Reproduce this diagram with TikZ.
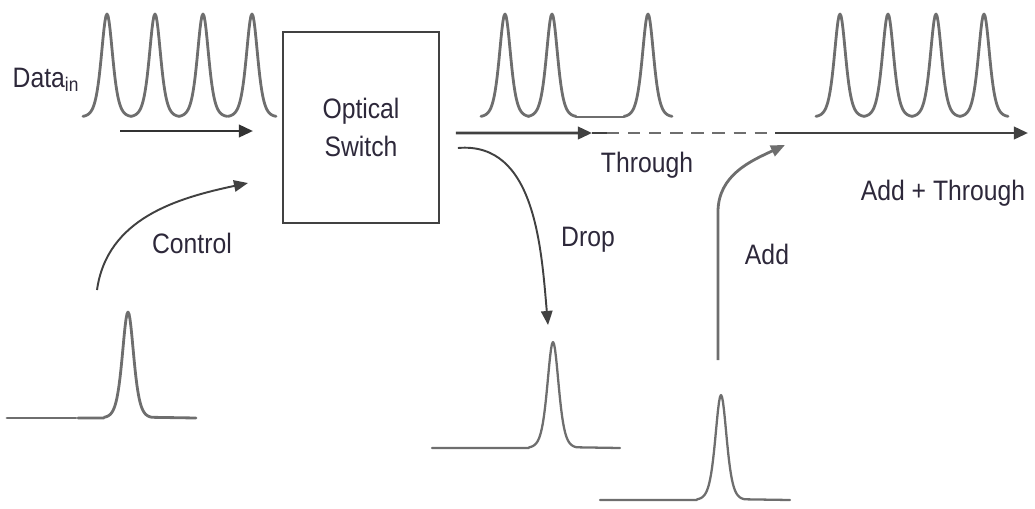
\documentclass[tikz,border=0pt]{standalone}
\usepackage{fontspec}
\setsansfont{Liberation Sans}[FakeStretch=0.88]
\usepackage{tikz}
\usetikzlibrary{calc, arrows.meta, positioning}
\usepackage{xcolor}

\definecolor{pulsegray}{RGB}{110,110,110}
\definecolor{arrowgray}{RGB}{65,65,65}
\definecolor{labelink}{RGB}{45,40,58}

\tikzset{
    pulse/.style={draw=pulsegray, line width=1.6pt, line join=round, line cap=round},
    flow/.style={draw=arrowgray, line width=1.6pt, -{Triangle[length=8pt, width=7pt]}},
    curvedflow/.style={draw=arrowgray, line width=1.1pt, -{Triangle[length=8pt, width=6.5pt]}},
    tag/.style={text=labelink, font=\sffamily\fontsize{16}{21.5}\selectfont, inner sep=0pt}
}

\begin{document}
\begin{tikzpicture}[x=0.02cm, y=-0.02cm]

    % Fix the page to the picture size
    \useasboundingbox (0,0) rectangle (1035,508);

    % The switch itself
    \node[draw=arrowgray, line width=1.1pt, minimum width=3.12cm, minimum height=3.82cm,
          inner sep=0pt, align=center, tag] (switch) at (361,127.5) {Optical\\Switch};

    % Labels
    \node[tag] (datain)     at (46,80)   {Data\textsubscript{in}};
    \node[tag] (control)    at (192,243) {Control};
    \node[tag] (through)    at (647,165) {Through};
    \node[tag] (drop)       at (588,240) {Drop};
    \node[tag] (add)        at (767,254) {Add};
    \node[tag] (addthrough) at (943,193) {Add + Through};

    % End points of the connectors
    \coordinate (dataS) at (120,131);
    \coordinate (dataE) at (253,131);
    \coordinate (ctrlS) at (97,290);
    \coordinate (ctrlE) at (248,183);
    \coordinate (thrS)  at ($(switch.east)+(16,5.5)$);
    \coordinate (thrM)  at (592,133);
    \coordinate (thrD)  at (607,133);
    \coordinate (thrJ)  at (775,133);
    \coordinate (outE)  at (1028,133);
    \coordinate (dropS) at ($(switch.east)+(18,20.5)$);
    \coordinate (dropE) at (548,325);
    \coordinate (addS)  at (718,360);
    \coordinate (addE)  at (785,145);

    % Pulse trains above the lines
    \foreach \p in {107,155,203,252}
        \draw[pulse] plot[domain=-24:24, samples=49] ({\p+\x}, {117-103/cosh(\x/7.5)^2});
    \foreach \p in {505,552,648}
        \draw[pulse] plot[domain=-24:24, samples=49] ({\p+\x}, {117-103/cosh(\x/7.5)^2});
    \draw[pulse] (576,117) -- (624,117);
    \foreach \p in {840,888,936,984}
        \draw[pulse] plot[domain=-24:24, samples=49] ({\p+\x}, {117-103/cosh(\x/7.5)^2});

    % Single pulses: control, drop and add
    \draw[pulse] (7,418) -- (76,418);
    \draw[pulse] (78,418) -- (104,418)
        plot[domain=-24:24, samples=49] ({128+\x}, {418-106/cosh(\x/7.5)^2}) -- (196,418);
    \draw[pulse, line width=1.3pt] (432,448) -- (529,448)
        plot[domain=-24:24, samples=49] ({553+\x}, {448-106/cosh(\x/7.5)^2}) -- (620,448);
    \draw[pulse, line width=1.3pt] (600,500) -- (697,500)
        plot[domain=-24:24, samples=49] ({721+\x}, {500-105/cosh(\x/7.5)^2}) -- (790,500);

    % Data in and the through path
    \draw[flow, draw=black!80] (dataS) -- (dataE);
    \draw[flow] (thrS) -- (thrM);
    \draw[draw=arrowgray, line width=1.6pt] (thrM) -- (thrD);
    \draw[draw=pulsegray, line width=1.6pt, dash pattern=on 7pt off 5pt] (thrD) -- (thrJ);
    \draw[flow] (thrJ) -- (outE);

    % Control, drop and add
    \draw[curvedflow] (ctrlS) to[out=82, in=192] (ctrlE);
    \draw[curvedflow] (dropS) to[out=5, in=95] (dropE);
    \draw[curvedflow, line width=1.6pt, draw=pulsegray] (addS) -- (718,212) to[out=90, in=205] (addE);

\end{tikzpicture}
\end{document}
